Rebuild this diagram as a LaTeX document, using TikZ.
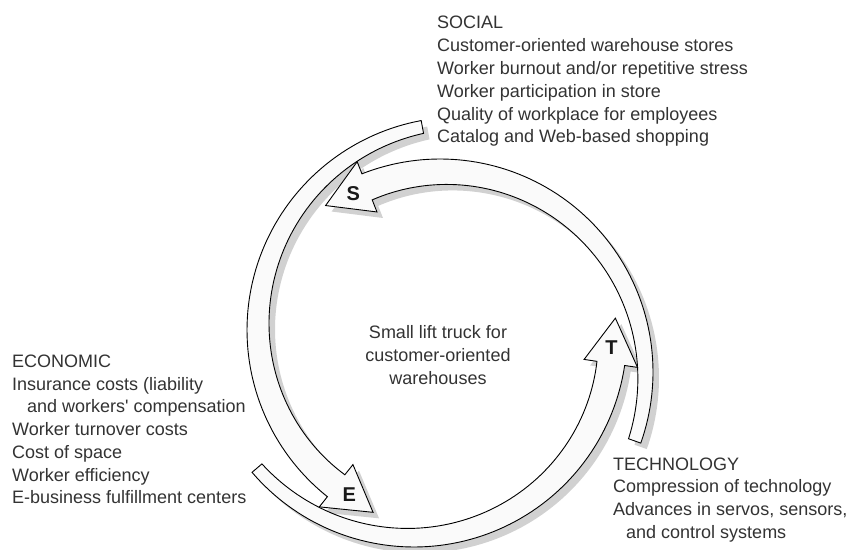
\documentclass[tikz,border=0pt]{standalone}
\usepackage{fontspec}
\setmainfont{Liberation Sans}

% straight apostrophe, kept out of the TeX quote mapping
\newcommand\sq{\XeTeXglyph\XeTeXcharglyph"27\relax}

% one tapering curved arrow of the cycle: tail at -19.5 deg, head turning anticlockwise
\newcommand\cyclearrow[1]{%
  \path[#1] plot[domain=-19.5:111.5, samples=80] (\x:213)
    -- (111.5:226) -- (124.5:202) -- (111.5:172) -- (111.5:185)
    -- plot[domain=111.5:-19.5, samples=80] (\x:{200-15*(\x+19.5)/131})
    -- cycle;}

\begin{document}
\begin{tikzpicture}[x=1pt, y=1pt,
  bodytext/.style={font=\fontsize{18}{22}\selectfont, text=black!80, inner sep=0pt},
  tag/.style={font=\fontsize{20}{22}\selectfont\bfseries, text=black!90, inner sep=0pt},
  arrowbody/.style={draw=black, line width=0.9pt, fill=black!2, line join=miter},
  arrowshadow/.style={fill=black!18},
]
\useasboundingbox (0,0) rectangle (853,549);
\fill[white] (0,0) rectangle (853,549);

% drop shadows of the three arrows
\foreach \cx/\cy/\rot in {440/177/0, 460/219/120, 414/215/240}{
  \begin{scope}[shift={(\cx+6,\cy-6)}, rotate=\rot]
    \cyclearrow{arrowshadow}
  \end{scope}}

% the three arrows with their letters
\foreach \nm/\cx/\cy/\rot in {S/440/177/0, E/460/219/120, T/414/215/240}{
  \begin{scope}[shift={(\cx,\cy)}, rotate=\rot]
    \cyclearrow{arrowbody}
    \node[tag] (tag\nm) at (116:198) {\nm};
  \end{scope}}

% social factors
\foreach \t [count=\i] in {SOCIAL, Customer-oriented warehouse stores,
    Worker burnout and/or repetitive stress, Worker participation in store,
    Quality of workplace for employees, Catalog and Web-based shopping}
  \node[bodytext, anchor=base west] (soc\i) at (437, {520-22.8*(\i-1)}) {\t};

% economic factors
\foreach \dx/\t [count=\i] in {0/ECONOMIC, 0/Insurance costs (liability,
    15/and workers\sq\ compensation, 0/Worker turnover costs, 0/Cost of space,
    0/Worker efficiency, 0/E-business fulfillment centers}
  \node[bodytext, anchor=base west] (eco\i) at (12+\dx, {181.5-22.7*(\i-1)}) {\t};

% technology factors
\foreach \dx/\t [count=\i] in {0/TECHNOLOGY, 0/Compression of technology,
    0/{Advances in servos, sensors,}, 13/and control systems}
  \node[bodytext, anchor=base west] (tec\i) at (613+\dx, {79-22.7*(\i-1)}) {\t};

% subject in the middle of the cycle
\foreach \t [count=\i] in {Small lift truck for, customer-oriented, warehouses}
  \node[bodytext, anchor=base] (mid\i) at (438, {210-22.7*(\i-1)}) {\t};
\end{tikzpicture}
\end{document}
